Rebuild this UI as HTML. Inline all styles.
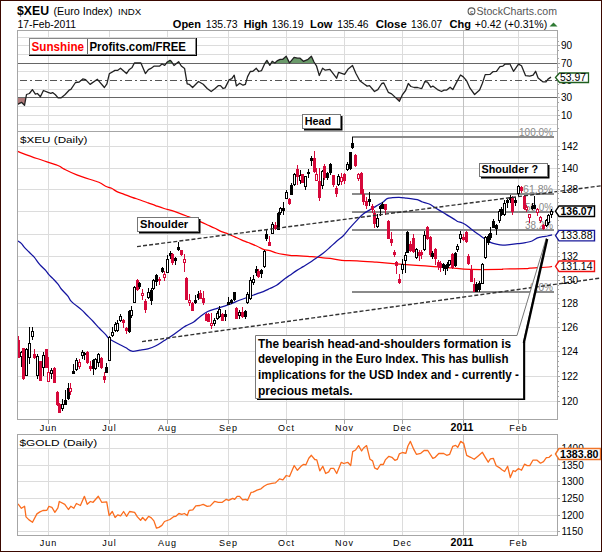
<!DOCTYPE html><html><head><meta charset="utf-8"><style>html,body{margin:0;padding:0;background:#fff;overflow:hidden}svg{display:block}</style></head><body><svg width="602" height="552" viewBox="0 0 602 552" font-family="'Liberation Sans', sans-serif" shape-rendering="auto">
<rect x="0" y="0" width="602" height="552" fill="#fff"/>
<text x="17" y="15" font-size="13.5" font-weight="bold" fill="#000" text-anchor="start" textLength="32.0" lengthAdjust="spacingAndGlyphs" >$XEU</text>
<text x="53.5" y="15" font-size="11" font-weight="normal" fill="#000" text-anchor="start" textLength="59.0" lengthAdjust="spacingAndGlyphs" >(Euro Index)</text>
<text x="118" y="14.8" font-size="9.8" font-weight="normal" fill="#000" text-anchor="start" textLength="23.2" lengthAdjust="spacingAndGlyphs" >INDX</text>
<text x="17.5" y="28" font-size="10" font-weight="normal" fill="#000" text-anchor="start" textLength="58.5" lengthAdjust="spacingAndGlyphs" >17-Feb-2011</text>
<circle cx="471.5" cy="11.3" r="3.4" fill="none" stroke="#555" stroke-width="1.1"/>
<text x="471.5" y="13.6" font-size="5.5" font-weight="bold" fill="#555" text-anchor="middle">c</text>
<text x="476.5" y="15" font-size="11" font-weight="normal" fill="#555" text-anchor="start" textLength="80.5" lengthAdjust="spacingAndGlyphs" >StockCharts.com</text>
<text x="172.8" y="27.5" font-size="11" font-weight="bold" fill="#000" text-anchor="start" textLength="28.2" lengthAdjust="spacingAndGlyphs" >Open</text>
<text x="205.7" y="27.5" font-size="11" font-weight="normal" fill="#000" text-anchor="start" textLength="32.0" lengthAdjust="spacingAndGlyphs" >135.73</text>
<text x="243.8" y="27.5" font-size="11" font-weight="bold" fill="#000" text-anchor="start" textLength="23.9" lengthAdjust="spacingAndGlyphs" >High</text>
<text x="271.7" y="27.5" font-size="11" font-weight="normal" fill="#000" text-anchor="start" textLength="31.9" lengthAdjust="spacingAndGlyphs" >136.19</text>
<text x="310.1" y="27.5" font-size="11" font-weight="bold" fill="#000" text-anchor="start" textLength="22.3" lengthAdjust="spacingAndGlyphs" >Low</text>
<text x="337.2" y="27.5" font-size="11" font-weight="normal" fill="#000" text-anchor="start" textLength="31.4" lengthAdjust="spacingAndGlyphs" >135.46</text>
<text x="375.7" y="27.5" font-size="11" font-weight="bold" fill="#000" text-anchor="start" textLength="31.1" lengthAdjust="spacingAndGlyphs" >Close</text>
<text x="411.1" y="27.5" font-size="11" font-weight="normal" fill="#000" text-anchor="start" textLength="31.1" lengthAdjust="spacingAndGlyphs" >136.07</text>
<text x="449.5" y="27.5" font-size="11" font-weight="bold" fill="#000" text-anchor="start" textLength="21.5" lengthAdjust="spacingAndGlyphs" >Chg</text>
<text x="474.8" y="27.5" font-size="11" font-weight="normal" fill="#000" text-anchor="start" textLength="72.4" lengthAdjust="spacingAndGlyphs" >+0.42 (+0.31%)</text>
<polygon points="549.5,26.5 557.5,26.5 553.5,22.5" fill="#2f7a34"/>
<line x1="17" y1="37.5" x2="557" y2="37.5" stroke="#dcdcdc" stroke-width="1" />
<line x1="17" y1="45.5" x2="557" y2="45.5" stroke="#dcdcdc" stroke-width="1" />
<line x1="17" y1="54.5" x2="557" y2="54.5" stroke="#dcdcdc" stroke-width="1" />
<line x1="17" y1="71.5" x2="557" y2="71.5" stroke="#dcdcdc" stroke-width="1" />
<line x1="17" y1="89.5" x2="557" y2="89.5" stroke="#dcdcdc" stroke-width="1" />
<line x1="17" y1="106.5" x2="557" y2="106.5" stroke="#dcdcdc" stroke-width="1" />
<line x1="17" y1="115.5" x2="557" y2="115.5" stroke="#dcdcdc" stroke-width="1" />
<line x1="17" y1="124.5" x2="557" y2="124.5" stroke="#dcdcdc" stroke-width="1" />
<line x1="48.5" y1="30" x2="48.5" y2="131" stroke="#dcdcdc" stroke-width="1" />
<line x1="109.5" y1="30" x2="109.5" y2="131" stroke="#dcdcdc" stroke-width="1" />
<line x1="167.5" y1="30" x2="167.5" y2="131" stroke="#dcdcdc" stroke-width="1" />
<line x1="228.5" y1="30" x2="228.5" y2="131" stroke="#dcdcdc" stroke-width="1" />
<line x1="286.5" y1="30" x2="286.5" y2="131" stroke="#dcdcdc" stroke-width="1" />
<line x1="344.5" y1="30" x2="344.5" y2="131" stroke="#dcdcdc" stroke-width="1" />
<line x1="402.5" y1="30" x2="402.5" y2="131" stroke="#dcdcdc" stroke-width="1" />
<line x1="463.5" y1="30" x2="463.5" y2="131" stroke="#c2c2c2" stroke-width="1" />
<line x1="518.5" y1="30" x2="518.5" y2="131" stroke="#dcdcdc" stroke-width="1" />
<polygon points="17.5,97.5 17.5,104.4 21.5,102.3 24.5,105.3 25.9,97.5" fill="#b07a7a"/>
<polygon points="57.8,97.5 58.1,97.9 60.9,97.9 61.4,97.5" fill="#b07a7a"/>
<polygon points="395.4,97.5 399.4,101.2 401.1,97.5" fill="#b07a7a"/>
<polygon points="134.1,63.5 134.4,63.0 140.9,63.0 141.1,63.5" fill="#6b9a6b"/>
<polygon points="166.1,63.5 167.3,62.0 170.0,60.4 171.3,61.3 172.7,63.5" fill="#6b9a6b"/>
<polygon points="176.4,63.5 178.6,61.7 179.7,63.5" fill="#6b9a6b"/>
<polygon points="264.8,63.5 264.9,63.3 266.9,60.4 268.2,62.6 268.7,63.5" fill="#6b9a6b"/>
<polygon points="270.9,63.5 272.2,61.3 274.9,63.0 277.5,60.6 280.2,59.3 282.8,59.3 286.2,56.2 289.5,62.9 294.1,57.3 297.5,58.2 300.1,58.2 303.4,61.3 308.1,59.3 311.4,56.2 314.0,62.0 314.9,63.5" fill="#6b9a6b"/>
<line x1="17" y1="63.5" x2="557" y2="63.5" stroke="#666" stroke-width="1" />
<line x1="17" y1="97.5" x2="557" y2="97.5" stroke="#666" stroke-width="1" />
<line x1="17" y1="80.5" x2="557" y2="80.5" stroke="#555" stroke-width="1" stroke-dasharray="7 3 2 3" stroke-dashoffset="-3"/>
<polyline points="17.5,104.4 21.5,102.3 24.5,105.3 26.5,94.5 29.4,93.5 32.4,89.6 35.4,94.2 37.4,93.5 40.4,96.7 43.4,90.5 48.1,92.4 50.8,93.3 52.6,92.6 55.4,94.8 58.1,97.9 60.9,97.9 64.9,94.8 69.1,90.2 70.9,89.3 75.5,82.5 79.2,82.0 82.8,78.9 85.6,79.6 90.1,84.4 97.4,79.3 104.4,87.5 106.9,83.8 109.3,73.8 115.0,70.4 117.5,70.4 120.5,68.2 126.5,73.6 129.4,69.4 132.1,67.4 134.4,63.0 140.9,63.0 145.4,73.6 148.4,69.7 150.9,68.4 153.9,66.2 159.4,66.2 162.0,64.0 164.7,65.3 167.3,62.0 170.0,60.4 171.3,61.3 174.0,65.5 178.6,61.7 181.3,66.0 184.6,68.6 187.2,83.9 189.2,84.3 192.6,87.5 198.5,81.5 203.2,84.3 207.2,88.5 211.2,91.5 215.1,88.5 218.5,85.6 220.5,85.6 223.1,88.5 225.1,87.9 229.1,79.9 231.8,78.6 234.2,75.2 236.4,85.9 239.7,83.2 243.0,85.2 245.4,84.3 247.6,76.6 250.3,71.5 252.9,71.3 256.3,68.3 258.7,71.5 261.6,70.6 264.9,63.3 266.9,60.4 268.2,62.6 269.8,65.3 272.2,61.3 274.9,63.0 277.5,60.6 280.2,59.3 282.8,59.3 286.2,56.2 289.5,62.9 294.1,57.3 297.5,58.2 300.1,58.2 303.4,61.3 308.1,59.3 311.4,56.2 314.0,62.0 316.6,66.2 319.3,75.5 322.6,68.2 325.3,70.2 329.9,69.3 336.6,78.2 338.6,72.3 344.6,74.3 347.9,69.3 352.5,65.5 355.8,73.3 359.8,80.8 364.5,84.3 367.1,86.1 369.5,85.6 374.5,91.5 377.8,89.6 381.8,83.5 383.8,83.0 388.3,92.3 391.6,93.9 399.4,101.2 402.3,94.9 405.6,90.5 408.3,83.5 410.9,86.5 414.2,87.5 417.6,87.5 420.9,88.5 421.9,88.3 424.9,81.5 427.5,82.2 430.8,87.2 432.8,86.1 437.5,89.6 441.5,91.5 444.1,90.1 446.8,90.1 450.1,87.2 452.8,89.6 456.8,81.9 460.5,75.0 463.3,76.9 466.6,80.7 470.0,88.2 474.6,94.5 479.6,89.9 482.4,83.2 485.2,74.6 489.9,74.4 493.2,71.6 496.5,71.3 499.9,66.6 502.9,66.1 505.2,64.1 509.8,63.8 513.5,71.3 518.5,64.1 521.5,65.8 525.6,75.7 529.8,76.2 533.1,75.2 535.6,71.3 538.1,77.9 543.1,81.9 546.0,81.9 548.0,79.1 551.0,77.1" fill="none" stroke="#222" stroke-width="1.3" stroke-linejoin="round"/>
<rect x="29" y="38" width="168" height="18" fill="#000"/>
<rect x="29.5" y="38.5" width="166" height="16" fill="#fff" stroke="#888" stroke-width="1"/>
<line x1="87.5" y1="39" x2="87.5" y2="54" stroke="#666" stroke-width="1" />
<text x="31.5" y="51" font-size="12" font-weight="bold" fill="#ff0000" text-anchor="start" textLength="52.5" lengthAdjust="spacingAndGlyphs" >Sunshine</text>
<text x="89.5" y="51" font-size="12" font-weight="bold" fill="#000" text-anchor="start" textLength="96.5" lengthAdjust="spacingAndGlyphs" >Profits.com/FREE</text>
<rect x="17.5" y="30.5" width="540" height="101" fill="none" stroke="#a6a6a6"/>
<line x1="557" y1="45.5" x2="560" y2="45.5" stroke="#a6a6a6" stroke-width="1" />
<line x1="557" y1="63.5" x2="560" y2="63.5" stroke="#a6a6a6" stroke-width="1" />
<line x1="557" y1="80.5" x2="560" y2="80.5" stroke="#a6a6a6" stroke-width="1" />
<line x1="557" y1="97.5" x2="560" y2="97.5" stroke="#a6a6a6" stroke-width="1" />
<line x1="557" y1="115.5" x2="560" y2="115.5" stroke="#a6a6a6" stroke-width="1" />
<line x1="557" y1="41.5" x2="559" y2="41.5" stroke="#a6a6a6" stroke-width="1" />
<line x1="557" y1="50.5" x2="559" y2="50.5" stroke="#a6a6a6" stroke-width="1" />
<line x1="557" y1="58.5" x2="559" y2="58.5" stroke="#a6a6a6" stroke-width="1" />
<line x1="557" y1="67.5" x2="559" y2="67.5" stroke="#a6a6a6" stroke-width="1" />
<line x1="557" y1="76.5" x2="559" y2="76.5" stroke="#a6a6a6" stroke-width="1" />
<line x1="557" y1="84.5" x2="559" y2="84.5" stroke="#a6a6a6" stroke-width="1" />
<line x1="557" y1="93.5" x2="559" y2="93.5" stroke="#a6a6a6" stroke-width="1" />
<line x1="557" y1="102.5" x2="559" y2="102.5" stroke="#a6a6a6" stroke-width="1" />
<line x1="557" y1="110.5" x2="559" y2="110.5" stroke="#a6a6a6" stroke-width="1" />
<line x1="557" y1="119.5" x2="559" y2="119.5" stroke="#a6a6a6" stroke-width="1" />
<line x1="557" y1="128.5" x2="559" y2="128.5" stroke="#a6a6a6" stroke-width="1" />
<text x="561" y="49" font-size="10" font-weight="normal" fill="#000" text-anchor="start" >90</text>
<text x="561" y="67" font-size="10" font-weight="normal" fill="#000" text-anchor="start" >70</text>
<text x="561" y="84" font-size="10" font-weight="normal" fill="#000" text-anchor="start" >50</text>
<text x="561" y="101" font-size="10" font-weight="normal" fill="#000" text-anchor="start" >30</text>
<text x="561" y="119" font-size="10" font-weight="normal" fill="#000" text-anchor="start" >10</text>
<polygon points="555.5,77.5 559.5,73 588.5,73 588.5,82.5 559.5,82.5" fill="#fff" stroke="#1f5f1f" stroke-width="1.3"/>
<text x="560" y="81.2" font-size="10" font-weight="normal" fill="#000" text-anchor="start" textLength="26.0" lengthAdjust="spacingAndGlyphs" >53.97</text>
<line x1="17" y1="146.5" x2="557" y2="146.5" stroke="#dcdcdc" stroke-width="1" />
<line x1="17" y1="168.5" x2="557" y2="168.5" stroke="#dcdcdc" stroke-width="1" />
<line x1="17" y1="189.5" x2="557" y2="189.5" stroke="#dcdcdc" stroke-width="1" />
<line x1="17" y1="211.5" x2="557" y2="211.5" stroke="#dcdcdc" stroke-width="1" />
<line x1="17" y1="234.5" x2="557" y2="234.5" stroke="#dcdcdc" stroke-width="1" />
<line x1="17" y1="256.5" x2="557" y2="256.5" stroke="#dcdcdc" stroke-width="1" />
<line x1="17" y1="280.5" x2="557" y2="280.5" stroke="#dcdcdc" stroke-width="1" />
<line x1="17" y1="303.5" x2="557" y2="303.5" stroke="#dcdcdc" stroke-width="1" />
<line x1="17" y1="327.5" x2="557" y2="327.5" stroke="#dcdcdc" stroke-width="1" />
<line x1="17" y1="351.5" x2="557" y2="351.5" stroke="#dcdcdc" stroke-width="1" />
<line x1="17" y1="376.5" x2="557" y2="376.5" stroke="#dcdcdc" stroke-width="1" />
<line x1="17" y1="401.5" x2="557" y2="401.5" stroke="#dcdcdc" stroke-width="1" />
<line x1="48.5" y1="131" x2="48.5" y2="419" stroke="#dcdcdc" stroke-width="1" />
<line x1="109.5" y1="131" x2="109.5" y2="419" stroke="#dcdcdc" stroke-width="1" />
<line x1="167.5" y1="131" x2="167.5" y2="419" stroke="#dcdcdc" stroke-width="1" />
<line x1="228.5" y1="131" x2="228.5" y2="419" stroke="#dcdcdc" stroke-width="1" />
<line x1="286.5" y1="131" x2="286.5" y2="419" stroke="#dcdcdc" stroke-width="1" />
<line x1="344.5" y1="131" x2="344.5" y2="419" stroke="#dcdcdc" stroke-width="1" />
<line x1="402.5" y1="131" x2="402.5" y2="419" stroke="#dcdcdc" stroke-width="1" />
<line x1="463.5" y1="131" x2="463.5" y2="419" stroke="#c2c2c2" stroke-width="1" />
<line x1="518.5" y1="131" x2="518.5" y2="419" stroke="#dcdcdc" stroke-width="1" />
<rect x="18" y="132" width="71" height="14" fill="#fff"/>
<text x="20" y="143" font-size="9.8" font-weight="normal" fill="#000" text-anchor="start" textLength="67.5" lengthAdjust="spacingAndGlyphs" >$XEU (Daily)</text>
<rect x="352" y="136" width="202" height="2" fill="#8a8a8a"/>
<rect x="352" y="193" width="202" height="2" fill="#8a8a8a"/>
<rect x="352" y="211" width="202" height="2" fill="#8a8a8a"/>
<rect x="352" y="229" width="202" height="2" fill="#8a8a8a"/>
<rect x="352" y="291" width="202" height="2" fill="#8a8a8a"/>
<text x="519" y="135.5" font-size="11" font-weight="normal" fill="#888" text-anchor="start" textLength="34.0" lengthAdjust="spacingAndGlyphs" >100.0%</text>
<text x="523" y="193" font-size="11" font-weight="normal" fill="#888" text-anchor="start" textLength="30.0" lengthAdjust="spacingAndGlyphs" >61.8%</text>
<text x="525" y="211" font-size="11" font-weight="normal" fill="#888" text-anchor="start" textLength="28.0" lengthAdjust="spacingAndGlyphs" >50.0%</text>
<text x="525" y="229" font-size="11" font-weight="normal" fill="#888" text-anchor="start" textLength="28.0" lengthAdjust="spacingAndGlyphs" >38.2%</text>
<text x="530" y="291" font-size="11" font-weight="normal" fill="#888" text-anchor="start" textLength="23.0" lengthAdjust="spacingAndGlyphs" >0.0%</text>
<path d="M17.00,151.20 C20.32,152.42 30.08,156.12 36.90,158.50 C43.72,160.88 53.42,163.77 57.90,165.50 C62.38,167.23 60.65,167.33 63.80,168.90 C66.95,170.47 71.60,172.88 76.80,174.90 C82.00,176.92 91.08,179.65 95.00,181.00 C98.92,182.35 98.53,182.12 100.30,183.00 C102.07,183.88 103.72,185.42 105.60,186.30 C107.48,187.18 109.72,187.42 111.60,188.30 C113.48,189.18 114.80,190.60 116.90,191.60 C119.00,192.60 121.65,193.35 124.20,194.30 C126.75,195.25 129.53,196.35 132.20,197.30 C134.87,198.25 137.53,199.07 140.20,200.00 C142.87,200.93 145.55,201.93 148.20,202.90 C150.85,203.87 153.45,204.87 156.10,205.80 C158.75,206.73 160.95,207.53 164.10,208.50 C167.25,209.47 170.97,210.23 175.00,211.60 C179.03,212.97 184.10,215.03 188.30,216.70 C192.50,218.37 196.88,220.18 200.20,221.60 C203.52,223.02 205.75,224.08 208.20,225.20 C210.65,226.32 212.68,227.23 214.90,228.30 C217.12,229.37 219.28,230.65 221.50,231.60 C223.72,232.55 225.98,233.12 228.20,234.00 C230.42,234.88 232.60,235.93 234.80,236.90 C237.00,237.87 239.18,238.87 241.40,239.80 C243.62,240.73 245.57,241.47 248.10,242.50 C250.63,243.53 254.07,244.87 256.60,246.00 C259.13,247.13 261.08,248.53 263.30,249.30 C265.52,250.07 267.68,249.98 269.90,250.60 C272.12,251.22 274.38,252.37 276.60,253.00 C278.82,253.63 280.98,254.02 283.20,254.40 C285.42,254.78 287.68,255.08 289.90,255.30 C292.12,255.52 294.28,255.55 296.50,255.70 C298.72,255.85 300.98,256.05 303.20,256.20 C305.42,256.35 307.60,256.47 309.80,256.60 C312.00,256.73 314.18,256.78 316.40,257.00 C318.62,257.22 320.83,257.68 323.10,257.90 C325.37,258.12 326.90,257.88 330.00,258.30 C333.10,258.72 337.20,259.98 341.70,260.40 C346.20,260.82 351.20,260.50 357.00,260.80 C362.80,261.10 367.15,261.47 376.50,262.20 C385.85,262.93 402.52,264.40 413.10,265.20 C423.68,266.00 433.52,266.53 440.00,267.00 C446.48,267.47 447.00,267.60 452.00,268.00 C457.00,268.40 462.00,269.17 470.00,269.40 C478.00,269.63 494.33,269.47 500.00,269.40 C505.67,269.33 499.67,269.13 504.00,269.00 C508.33,268.87 521.67,268.73 526.00,268.60 C530.33,268.47 526.17,268.47 530.00,268.20 C533.83,267.93 545.33,267.30 549.00,267.00 C552.67,266.70 551.50,266.50 552.00,266.40" fill="none" stroke="#ff0000" stroke-width="1.25"/>
<path d="M17.50,240.80 C18.17,241.27 20.38,242.53 21.50,243.60 C22.62,244.67 22.98,245.83 24.20,247.20 C25.42,248.57 27.13,250.13 28.80,251.80 C30.47,253.47 32.40,255.10 34.20,257.20 C36.00,259.30 37.63,262.13 39.60,264.40 C41.57,266.67 44.48,269.13 46.00,270.80 C47.52,272.47 47.50,273.05 48.70,274.40 C49.90,275.75 51.62,277.23 53.20,278.90 C54.78,280.57 56.85,282.72 58.20,284.40 C59.55,286.08 59.72,287.08 61.30,289.00 C62.88,290.92 66.00,293.80 67.70,295.90 C69.40,298.00 69.18,299.27 71.50,301.60 C73.82,303.93 79.07,307.67 81.60,309.90 C84.13,312.13 84.80,313.10 86.70,315.00 C88.60,316.90 90.88,319.08 93.00,321.30 C95.12,323.52 97.28,326.08 99.40,328.30 C101.52,330.52 104.02,332.82 105.70,334.60 C107.38,336.38 107.12,337.30 109.50,339.00 C111.88,340.70 117.25,343.33 120.00,344.80 C122.75,346.27 124.00,346.73 126.00,347.80 C128.00,348.87 129.68,350.80 132.00,351.20 C134.32,351.60 137.25,350.60 139.90,350.20 C142.55,349.80 145.23,349.53 147.90,348.80 C150.57,348.07 153.23,347.13 155.90,345.80 C158.57,344.47 161.25,342.47 163.90,340.80 C166.55,339.13 169.15,337.62 171.80,335.80 C174.45,333.98 177.47,331.55 179.80,329.90 C182.13,328.25 183.48,327.23 185.80,325.90 C188.12,324.57 191.38,323.40 193.70,321.90 C196.02,320.40 197.37,318.63 199.70,316.90 C202.03,315.17 205.03,312.83 207.70,311.50 C210.37,310.17 213.05,309.77 215.70,308.90 C218.35,308.03 220.95,307.18 223.60,306.30 C226.25,305.42 228.87,304.65 231.60,303.60 C234.33,302.55 236.93,301.18 240.00,300.00 C243.07,298.82 247.23,297.53 250.00,296.50 C252.77,295.47 254.38,294.62 256.60,293.80 C258.82,292.98 261.08,292.48 263.30,291.60 C265.52,290.72 267.68,289.57 269.90,288.50 C272.12,287.43 274.38,286.63 276.60,285.20 C278.82,283.77 280.98,281.57 283.20,279.90 C285.42,278.23 287.68,276.75 289.90,275.20 C292.12,273.65 294.28,272.03 296.50,270.60 C298.72,269.17 300.98,267.93 303.20,266.60 C305.42,265.27 307.60,264.05 309.80,262.60 C312.00,261.15 314.18,259.45 316.40,257.90 C318.62,256.35 320.83,255.07 323.10,253.30 C325.37,251.53 327.75,249.32 330.00,247.30 C332.25,245.28 334.38,243.12 336.60,241.20 C338.82,239.28 341.08,238.02 343.30,235.80 C345.52,233.58 347.68,230.43 349.90,227.90 C352.12,225.37 354.38,222.93 356.60,220.60 C358.82,218.27 360.98,215.68 363.20,213.90 C365.42,212.12 367.68,211.23 369.90,209.90 C372.12,208.57 374.28,207.22 376.50,205.90 C378.72,204.58 381.43,203.22 383.20,202.00 C384.97,200.78 385.55,199.32 387.10,198.60 C388.65,197.88 390.50,197.92 392.50,197.70 C394.50,197.48 396.75,197.22 399.10,197.30 C401.45,197.38 404.68,197.98 406.60,198.20 C408.52,198.42 408.82,198.37 410.60,198.60 C412.38,198.83 415.30,199.03 417.30,199.60 C419.30,200.17 420.62,201.27 422.60,202.00 C424.58,202.73 427.20,203.12 429.20,204.00 C431.20,204.88 432.82,206.20 434.60,207.30 C436.38,208.40 437.92,209.38 439.90,210.60 C441.88,211.82 444.28,213.27 446.50,214.60 C448.72,215.93 451.43,217.50 453.20,218.60 C454.97,219.70 455.55,220.47 457.10,221.20 C458.65,221.93 460.95,222.33 462.50,223.00 C464.05,223.67 465.08,224.28 466.40,225.20 C467.72,226.12 468.97,227.37 470.40,228.50 C471.83,229.63 473.35,230.80 475.00,232.00 C476.65,233.20 478.53,234.48 480.30,235.70 C482.07,236.92 483.82,238.15 485.60,239.30 C487.38,240.45 489.22,241.78 491.00,242.60 C492.78,243.42 494.32,243.77 496.30,244.20 C498.28,244.63 500.68,245.13 502.90,245.20 C505.12,245.27 507.17,244.85 509.60,244.60 C512.03,244.35 514.85,244.03 517.50,243.70 C520.15,243.37 523.07,243.05 525.50,242.60 C527.93,242.15 530.10,241.78 532.10,241.00 C534.10,240.22 535.72,238.63 537.50,237.90 C539.28,237.17 541.15,236.92 542.80,236.60 C544.45,236.28 545.85,236.28 547.40,236.00 C548.95,235.72 551.32,235.08 552.10,234.90" fill="none" stroke="#1414a0" stroke-width="1.25"/>
<rect x="18" y="336" width="1" height="22" fill="#d6083a"/>
<rect x="17" y="340" width="3" height="18" fill="#d6083a"/>
<rect x="21" y="351" width="1" height="16" fill="#000"/>
<rect x="20.5" y="352.5" width="2" height="4" fill="#fff" stroke="#000" stroke-width="1"/>
<rect x="23" y="348" width="1" height="32" fill="#d6083a"/>
<rect x="22" y="348" width="3" height="31" fill="#d6083a"/>
<rect x="26" y="348" width="1" height="28" fill="#000"/>
<rect x="25.5" y="349.5" width="2" height="26" fill="#fff" stroke="#000" stroke-width="1"/>
<rect x="29" y="327" width="1" height="37" fill="#000"/>
<rect x="28.5" y="343.5" width="2" height="14" fill="#fff" stroke="#000" stroke-width="1"/>
<rect x="32" y="327" width="1" height="13" fill="#000"/>
<rect x="31.5" y="331.5" width="2" height="5" fill="#fff" stroke="#000" stroke-width="1"/>
<rect x="34" y="349" width="1" height="10" fill="#d6083a"/>
<rect x="33" y="354" width="3" height="4" fill="#d6083a"/>
<rect x="37" y="354" width="1" height="25" fill="#000"/>
<rect x="36.5" y="356.5" width="2" height="19" fill="#fff" stroke="#000" stroke-width="1"/>
<rect x="40" y="361" width="1" height="20" fill="#d6083a"/>
<rect x="39" y="361" width="3" height="20" fill="#d6083a"/>
<rect x="43" y="352" width="1" height="24" fill="#000"/>
<rect x="42.5" y="355.5" width="2" height="12" fill="#fff" stroke="#000" stroke-width="1"/>
<rect x="46" y="349" width="1" height="19" fill="#d6083a"/>
<rect x="45" y="349" width="3" height="19" fill="#d6083a"/>
<rect x="48" y="357" width="1" height="25" fill="#d6083a"/>
<rect x="47.5" y="372.5" width="2" height="9" fill="#fff" stroke="#d6083a" stroke-width="1"/>
<rect x="51" y="368" width="1" height="11" fill="#000"/>
<rect x="50.5" y="370.5" width="2" height="3" fill="#fff" stroke="#000" stroke-width="1"/>
<rect x="54" y="367" width="1" height="16" fill="#d6083a"/>
<rect x="53" y="368" width="3" height="15" fill="#d6083a"/>
<rect x="57" y="391" width="1" height="15" fill="#d6083a"/>
<rect x="56" y="392" width="3" height="13" fill="#d6083a"/>
<rect x="59" y="403" width="1" height="10" fill="#d6083a"/>
<rect x="58" y="404" width="3" height="9" fill="#d6083a"/>
<rect x="62" y="399" width="1" height="12" fill="#000"/>
<rect x="61.5" y="404.5" width="2" height="4" fill="#fff" stroke="#000" stroke-width="1"/>
<rect x="65" y="390" width="1" height="15" fill="#000"/>
<rect x="64" y="400" width="3" height="5" fill="#000"/>
<rect x="68" y="383" width="1" height="17" fill="#000"/>
<rect x="67" y="388" width="3" height="11" fill="#000"/>
<rect x="70" y="383" width="1" height="12" fill="#d6083a"/>
<rect x="69.5" y="388.5" width="2" height="3" fill="#fff" stroke="#d6083a" stroke-width="1"/>
<rect x="73" y="364" width="1" height="10" fill="#000"/>
<rect x="72" y="371" width="3" height="3" fill="#000"/>
<rect x="76" y="358" width="1" height="13" fill="#000"/>
<rect x="75.5" y="360.5" width="2" height="9" fill="#fff" stroke="#000" stroke-width="1"/>
<rect x="79" y="359" width="1" height="10" fill="#d6083a"/>
<rect x="78.5" y="362.5" width="2" height="4" fill="#fff" stroke="#d6083a" stroke-width="1"/>
<rect x="82" y="350" width="1" height="9" fill="#000"/>
<rect x="81.5" y="352.5" width="2" height="3" fill="#fff" stroke="#000" stroke-width="1"/>
<rect x="84" y="352" width="1" height="8" fill="#000"/>
<rect x="83" y="353" width="3" height="2" fill="#000"/>
<rect x="87" y="351" width="1" height="13" fill="#d6083a"/>
<rect x="86" y="352" width="3" height="11" fill="#d6083a"/>
<rect x="90" y="361" width="1" height="10" fill="#d6083a"/>
<rect x="89" y="366" width="3" height="3" fill="#d6083a"/>
<rect x="93" y="359" width="1" height="16" fill="#000"/>
<rect x="92" y="360" width="3" height="9" fill="#000"/>
<rect x="95" y="358" width="1" height="12" fill="#000"/>
<rect x="94.5" y="359.5" width="2" height="9" fill="#fff" stroke="#000" stroke-width="1"/>
<rect x="98" y="353" width="1" height="14" fill="#000"/>
<rect x="97.5" y="354.5" width="2" height="8" fill="#fff" stroke="#000" stroke-width="1"/>
<rect x="101" y="357" width="1" height="12" fill="#d6083a"/>
<rect x="100" y="358" width="3" height="10" fill="#d6083a"/>
<rect x="104" y="372" width="1" height="11" fill="#d6083a"/>
<rect x="103" y="376" width="3" height="4" fill="#d6083a"/>
<rect x="106" y="363" width="1" height="10" fill="#000"/>
<rect x="105" y="367" width="3" height="6" fill="#000"/>
<rect x="109" y="336" width="1" height="25" fill="#000"/>
<rect x="108.5" y="337.5" width="2" height="23" fill="#fff" stroke="#000" stroke-width="1"/>
<rect x="112" y="327" width="1" height="10" fill="#000"/>
<rect x="111.5" y="332.5" width="2" height="3" fill="#fff" stroke="#000" stroke-width="1"/>
<rect x="115" y="322" width="1" height="10" fill="#000"/>
<rect x="114.5" y="324.5" width="2" height="6" fill="#fff" stroke="#000" stroke-width="1"/>
<rect x="117" y="320" width="1" height="12" fill="#000"/>
<rect x="116.5" y="323.5" width="2" height="7" fill="#fff" stroke="#000" stroke-width="1"/>
<rect x="120" y="314" width="1" height="8" fill="#000"/>
<rect x="119.5" y="316.5" width="2" height="4" fill="#fff" stroke="#000" stroke-width="1"/>
<rect x="123" y="319" width="1" height="9" fill="#d6083a"/>
<rect x="122" y="320" width="3" height="3" fill="#d6083a"/>
<rect x="126" y="327" width="1" height="7" fill="#d6083a"/>
<rect x="125" y="328" width="3" height="3" fill="#d6083a"/>
<rect x="129" y="310" width="1" height="23" fill="#000"/>
<rect x="128" y="311" width="3" height="21" fill="#000"/>
<rect x="131" y="306" width="1" height="12" fill="#000"/>
<rect x="130.5" y="310.5" width="2" height="5" fill="#fff" stroke="#000" stroke-width="1"/>
<rect x="134" y="286" width="1" height="17" fill="#000"/>
<rect x="133.5" y="287.5" width="2" height="15" fill="#fff" stroke="#000" stroke-width="1"/>
<rect x="137" y="279" width="1" height="12" fill="#d6083a"/>
<rect x="136" y="280" width="3" height="10" fill="#d6083a"/>
<rect x="139" y="282" width="1" height="7" fill="#000"/>
<rect x="138" y="283" width="3" height="4" fill="#000"/>
<rect x="142" y="289" width="1" height="11" fill="#d6083a"/>
<rect x="141.5" y="293.5" width="2" height="2" fill="#fff" stroke="#d6083a" stroke-width="1"/>
<rect x="145" y="299" width="1" height="14" fill="#d6083a"/>
<rect x="144" y="301" width="3" height="9" fill="#d6083a"/>
<rect x="148" y="288" width="1" height="11" fill="#000"/>
<rect x="147.5" y="292.5" width="2" height="5" fill="#fff" stroke="#000" stroke-width="1"/>
<rect x="151" y="288" width="1" height="17" fill="#000"/>
<rect x="150" y="290" width="3" height="11" fill="#000"/>
<rect x="153" y="279" width="1" height="11" fill="#000"/>
<rect x="152.5" y="280.5" width="2" height="8" fill="#fff" stroke="#000" stroke-width="1"/>
<rect x="156" y="274" width="1" height="12" fill="#000"/>
<rect x="155" y="275" width="3" height="7" fill="#000"/>
<rect x="159" y="277" width="1" height="8" fill="#d6083a"/>
<rect x="158" y="279" width="3" height="2" fill="#d6083a"/>
<rect x="162" y="267" width="1" height="6" fill="#000"/>
<rect x="161" y="268" width="3" height="4" fill="#000"/>
<rect x="164" y="271" width="1" height="10" fill="#d6083a"/>
<rect x="163.5" y="274.5" width="2" height="3" fill="#fff" stroke="#d6083a" stroke-width="1"/>
<rect x="167" y="255" width="1" height="18" fill="#000"/>
<rect x="166.5" y="259.5" width="2" height="13" fill="#fff" stroke="#000" stroke-width="1"/>
<rect x="170" y="251" width="1" height="8" fill="#000"/>
<rect x="169" y="253" width="3" height="3" fill="#000"/>
<rect x="172" y="253" width="1" height="12" fill="#d6083a"/>
<rect x="171" y="254" width="3" height="9" fill="#d6083a"/>
<rect x="175" y="257" width="1" height="8" fill="#000"/>
<rect x="174" y="258" width="3" height="3" fill="#000"/>
<rect x="178" y="242" width="1" height="9" fill="#000"/>
<rect x="177" y="247" width="3" height="3" fill="#000"/>
<rect x="181" y="250" width="1" height="6" fill="#d6083a"/>
<rect x="180" y="250" width="3" height="5" fill="#d6083a"/>
<rect x="184" y="254" width="1" height="18" fill="#d6083a"/>
<rect x="183.5" y="259.5" width="2" height="3" fill="#fff" stroke="#d6083a" stroke-width="1"/>
<rect x="186" y="277" width="1" height="23" fill="#d6083a"/>
<rect x="185" y="278" width="3" height="22" fill="#d6083a"/>
<rect x="189" y="294" width="1" height="12" fill="#d6083a"/>
<rect x="188.5" y="300.5" width="2" height="2" fill="#fff" stroke="#d6083a" stroke-width="1"/>
<rect x="192" y="302" width="1" height="9" fill="#d6083a"/>
<rect x="191" y="303" width="3" height="8" fill="#d6083a"/>
<rect x="195" y="295" width="1" height="9" fill="#000"/>
<rect x="194" y="300" width="3" height="3" fill="#000"/>
<rect x="198" y="291" width="1" height="9" fill="#000"/>
<rect x="197" y="294" width="3" height="4" fill="#000"/>
<rect x="200" y="290" width="1" height="9" fill="#d6083a"/>
<rect x="199" y="293" width="3" height="6" fill="#d6083a"/>
<rect x="203" y="291" width="1" height="14" fill="#d6083a"/>
<rect x="202" y="298" width="3" height="5" fill="#d6083a"/>
<rect x="206" y="313" width="1" height="8" fill="#d6083a"/>
<rect x="205" y="314" width="3" height="7" fill="#d6083a"/>
<rect x="208" y="313" width="1" height="9" fill="#d6083a"/>
<rect x="207" y="314" width="3" height="8" fill="#d6083a"/>
<rect x="211" y="313" width="1" height="16" fill="#d6083a"/>
<rect x="210.5" y="323.5" width="2" height="2" fill="#fff" stroke="#d6083a" stroke-width="1"/>
<rect x="214" y="318" width="1" height="8" fill="#000"/>
<rect x="213.5" y="320.5" width="2" height="3" fill="#fff" stroke="#000" stroke-width="1"/>
<rect x="217" y="311" width="1" height="9" fill="#000"/>
<rect x="216.5" y="313.5" width="2" height="5" fill="#fff" stroke="#000" stroke-width="1"/>
<rect x="219" y="306" width="1" height="12" fill="#000"/>
<rect x="218.5" y="309.5" width="2" height="7" fill="#fff" stroke="#000" stroke-width="1"/>
<rect x="222" y="313" width="1" height="8" fill="#d6083a"/>
<rect x="221" y="314" width="3" height="7" fill="#d6083a"/>
<rect x="225" y="310" width="1" height="11" fill="#000"/>
<rect x="224" y="314" width="3" height="3" fill="#000"/>
<rect x="228" y="297" width="1" height="8" fill="#000"/>
<rect x="227" y="302" width="3" height="3" fill="#000"/>
<rect x="231" y="299" width="1" height="5" fill="#000"/>
<rect x="230" y="300" width="3" height="3" fill="#000"/>
<rect x="234" y="292" width="1" height="9" fill="#000"/>
<rect x="233" y="292" width="3" height="8" fill="#000"/>
<rect x="236" y="307" width="1" height="12" fill="#d6083a"/>
<rect x="235" y="308" width="3" height="11" fill="#d6083a"/>
<rect x="239" y="310" width="1" height="9" fill="#000"/>
<rect x="238.5" y="312.5" width="2" height="3" fill="#fff" stroke="#000" stroke-width="1"/>
<rect x="242" y="307" width="1" height="11" fill="#d6083a"/>
<rect x="241" y="312" width="3" height="5" fill="#d6083a"/>
<rect x="245" y="310" width="1" height="9" fill="#000"/>
<rect x="244" y="311" width="3" height="6" fill="#000"/>
<rect x="247" y="292" width="1" height="12" fill="#000"/>
<rect x="246.5" y="294.5" width="2" height="8" fill="#fff" stroke="#000" stroke-width="1"/>
<rect x="250" y="277" width="1" height="23" fill="#000"/>
<rect x="249.5" y="280.5" width="2" height="18" fill="#fff" stroke="#000" stroke-width="1"/>
<rect x="253" y="275" width="1" height="10" fill="#000"/>
<rect x="252.5" y="279.5" width="2" height="3" fill="#fff" stroke="#000" stroke-width="1"/>
<rect x="256" y="266" width="1" height="10" fill="#000"/>
<rect x="255" y="269" width="3" height="4" fill="#000"/>
<rect x="258" y="269" width="1" height="9" fill="#d6083a"/>
<rect x="257" y="271" width="3" height="6" fill="#d6083a"/>
<rect x="261" y="269" width="1" height="9" fill="#000"/>
<rect x="260" y="270" width="3" height="4" fill="#000"/>
<rect x="264" y="250" width="1" height="18" fill="#000"/>
<rect x="263.5" y="251.5" width="2" height="15" fill="#fff" stroke="#000" stroke-width="1"/>
<rect x="266" y="230" width="1" height="11" fill="#000"/>
<rect x="265" y="234" width="3" height="5" fill="#000"/>
<rect x="269" y="236" width="1" height="10" fill="#d6083a"/>
<rect x="268" y="242" width="3" height="4" fill="#d6083a"/>
<rect x="272" y="222" width="1" height="12" fill="#000"/>
<rect x="271.5" y="224.5" width="2" height="9" fill="#fff" stroke="#000" stroke-width="1"/>
<rect x="275" y="222" width="1" height="8" fill="#d6083a"/>
<rect x="274" y="225" width="3" height="4" fill="#d6083a"/>
<rect x="278" y="212" width="1" height="18" fill="#000"/>
<rect x="277" y="213" width="3" height="17" fill="#000"/>
<rect x="280" y="207" width="1" height="8" fill="#000"/>
<rect x="279.5" y="208.5" width="2" height="4" fill="#fff" stroke="#000" stroke-width="1"/>
<rect x="283" y="202" width="1" height="13" fill="#000"/>
<rect x="282" y="208" width="3" height="3" fill="#000"/>
<rect x="286" y="190" width="1" height="9" fill="#000"/>
<rect x="285.5" y="192.5" width="2" height="6" fill="#fff" stroke="#000" stroke-width="1"/>
<rect x="289" y="198" width="1" height="7" fill="#d6083a"/>
<rect x="288" y="199" width="3" height="5" fill="#d6083a"/>
<rect x="291" y="183" width="1" height="12" fill="#000"/>
<rect x="290" y="185" width="3" height="10" fill="#000"/>
<rect x="294" y="173" width="1" height="13" fill="#000"/>
<rect x="293.5" y="174.5" width="2" height="10" fill="#fff" stroke="#000" stroke-width="1"/>
<rect x="297" y="165" width="1" height="20" fill="#d6083a"/>
<rect x="296" y="169" width="3" height="8" fill="#d6083a"/>
<rect x="300" y="170" width="1" height="14" fill="#000"/>
<rect x="299.5" y="175.5" width="2" height="5" fill="#fff" stroke="#000" stroke-width="1"/>
<rect x="302" y="174" width="1" height="9" fill="#d6083a"/>
<rect x="301" y="174" width="3" height="9" fill="#d6083a"/>
<rect x="305" y="176" width="1" height="14" fill="#000"/>
<rect x="304.5" y="176.5" width="2" height="10" fill="#fff" stroke="#000" stroke-width="1"/>
<rect x="308" y="169" width="1" height="9" fill="#000"/>
<rect x="307" y="172" width="3" height="2" fill="#000"/>
<rect x="311" y="156" width="1" height="10" fill="#000"/>
<rect x="310" y="158" width="3" height="3" fill="#000"/>
<rect x="314" y="151" width="1" height="22" fill="#d6083a"/>
<rect x="313" y="158" width="3" height="14" fill="#d6083a"/>
<rect x="316" y="168" width="1" height="13" fill="#d6083a"/>
<rect x="315.5" y="174.5" width="2" height="6" fill="#fff" stroke="#d6083a" stroke-width="1"/>
<rect x="319" y="168" width="1" height="33" fill="#d6083a"/>
<rect x="318" y="181" width="3" height="17" fill="#d6083a"/>
<rect x="322" y="170" width="1" height="19" fill="#000"/>
<rect x="321.5" y="171.5" width="2" height="14" fill="#fff" stroke="#000" stroke-width="1"/>
<rect x="324" y="164" width="1" height="16" fill="#d6083a"/>
<rect x="323" y="166" width="3" height="12" fill="#d6083a"/>
<rect x="327" y="172" width="1" height="8" fill="#000"/>
<rect x="326" y="173" width="3" height="5" fill="#000"/>
<rect x="330" y="163" width="1" height="12" fill="#000"/>
<rect x="329" y="164" width="3" height="9" fill="#000"/>
<rect x="333" y="175" width="1" height="12" fill="#d6083a"/>
<rect x="332" y="175" width="3" height="10" fill="#d6083a"/>
<rect x="336" y="186" width="1" height="11" fill="#d6083a"/>
<rect x="335" y="188" width="3" height="6" fill="#d6083a"/>
<rect x="338" y="174" width="1" height="12" fill="#000"/>
<rect x="337.5" y="176.5" width="2" height="8" fill="#fff" stroke="#000" stroke-width="1"/>
<rect x="341" y="173" width="1" height="12" fill="#d6083a"/>
<rect x="340.5" y="177.5" width="2" height="4" fill="#fff" stroke="#d6083a" stroke-width="1"/>
<rect x="344" y="173" width="1" height="11" fill="#d6083a"/>
<rect x="343" y="174" width="3" height="7" fill="#d6083a"/>
<rect x="347" y="162" width="1" height="9" fill="#000"/>
<rect x="346.5" y="164.5" width="2" height="5" fill="#fff" stroke="#000" stroke-width="1"/>
<rect x="350" y="152" width="1" height="18" fill="#000"/>
<rect x="349" y="152" width="3" height="17" fill="#000"/>
<rect x="352" y="137" width="1" height="12" fill="#000"/>
<rect x="351" y="143" width="3" height="5" fill="#000"/>
<rect x="355" y="154" width="1" height="13" fill="#d6083a"/>
<rect x="354" y="155" width="3" height="11" fill="#d6083a"/>
<rect x="358" y="173" width="1" height="8" fill="#d6083a"/>
<rect x="357.5" y="174.5" width="2" height="4" fill="#fff" stroke="#d6083a" stroke-width="1"/>
<rect x="361" y="172" width="1" height="22" fill="#d6083a"/>
<rect x="360" y="173" width="3" height="21" fill="#d6083a"/>
<rect x="363" y="189" width="1" height="16" fill="#d6083a"/>
<rect x="362" y="194" width="3" height="8" fill="#d6083a"/>
<rect x="366" y="197" width="1" height="12" fill="#d6083a"/>
<rect x="365" y="201" width="3" height="5" fill="#d6083a"/>
<rect x="369" y="192" width="1" height="14" fill="#000"/>
<rect x="368" y="199" width="3" height="3" fill="#000"/>
<rect x="372" y="204" width="1" height="9" fill="#d6083a"/>
<rect x="371" y="206" width="3" height="4" fill="#d6083a"/>
<rect x="374" y="210" width="1" height="18" fill="#d6083a"/>
<rect x="373" y="213" width="3" height="11" fill="#d6083a"/>
<rect x="377" y="214" width="1" height="14" fill="#000"/>
<rect x="376.5" y="218.5" width="2" height="8" fill="#fff" stroke="#000" stroke-width="1"/>
<rect x="380" y="205" width="1" height="11" fill="#000"/>
<rect x="379" y="206" width="3" height="3" fill="#000"/>
<rect x="382" y="202" width="1" height="7" fill="#000"/>
<rect x="381" y="204" width="3" height="5" fill="#000"/>
<rect x="385" y="204" width="1" height="11" fill="#d6083a"/>
<rect x="384" y="204" width="3" height="6" fill="#d6083a"/>
<rect x="388" y="220" width="1" height="19" fill="#d6083a"/>
<rect x="387" y="221" width="3" height="18" fill="#d6083a"/>
<rect x="391" y="232" width="1" height="14" fill="#d6083a"/>
<rect x="390" y="239" width="3" height="4" fill="#d6083a"/>
<rect x="394" y="250" width="1" height="7" fill="#d6083a"/>
<rect x="393" y="252" width="3" height="3" fill="#d6083a"/>
<rect x="396" y="261" width="1" height="13" fill="#d6083a"/>
<rect x="395" y="262" width="3" height="4" fill="#d6083a"/>
<rect x="399" y="274" width="1" height="10" fill="#d6083a"/>
<rect x="398" y="279" width="3" height="4" fill="#d6083a"/>
<rect x="402" y="259" width="1" height="15" fill="#000"/>
<rect x="401.5" y="264.5" width="2" height="5" fill="#fff" stroke="#000" stroke-width="1"/>
<rect x="405" y="252" width="1" height="21" fill="#000"/>
<rect x="404.5" y="255.5" width="2" height="5" fill="#fff" stroke="#000" stroke-width="1"/>
<rect x="407" y="231" width="1" height="22" fill="#000"/>
<rect x="406" y="232" width="3" height="21" fill="#000"/>
<rect x="410" y="241" width="1" height="11" fill="#d6083a"/>
<rect x="409" y="244" width="3" height="7" fill="#d6083a"/>
<rect x="413" y="234" width="1" height="19" fill="#d6083a"/>
<rect x="412" y="238" width="3" height="14" fill="#d6083a"/>
<rect x="416" y="248" width="1" height="11" fill="#000"/>
<rect x="415.5" y="249.5" width="2" height="8" fill="#fff" stroke="#000" stroke-width="1"/>
<rect x="419" y="250" width="1" height="11" fill="#d6083a"/>
<rect x="418" y="252" width="3" height="4" fill="#d6083a"/>
<rect x="421" y="250" width="1" height="9" fill="#d6083a"/>
<rect x="420" y="252" width="3" height="3" fill="#d6083a"/>
<rect x="424" y="231" width="1" height="20" fill="#000"/>
<rect x="423.5" y="235.5" width="2" height="14" fill="#fff" stroke="#000" stroke-width="1"/>
<rect x="427" y="226" width="1" height="14" fill="#d6083a"/>
<rect x="426" y="227" width="3" height="12" fill="#d6083a"/>
<rect x="430" y="236" width="1" height="21" fill="#d6083a"/>
<rect x="429" y="237" width="3" height="18" fill="#d6083a"/>
<rect x="432" y="251" width="1" height="8" fill="#000"/>
<rect x="431" y="253" width="3" height="4" fill="#000"/>
<rect x="435" y="248" width="1" height="17" fill="#d6083a"/>
<rect x="434" y="249" width="3" height="10" fill="#d6083a"/>
<rect x="438" y="260" width="1" height="10" fill="#d6083a"/>
<rect x="437" y="262" width="3" height="5" fill="#d6083a"/>
<rect x="440" y="261" width="1" height="11" fill="#d6083a"/>
<rect x="439" y="263" width="3" height="5" fill="#d6083a"/>
<rect x="443" y="263" width="1" height="8" fill="#000"/>
<rect x="442" y="264" width="3" height="4" fill="#000"/>
<rect x="445" y="265" width="1" height="10" fill="#000"/>
<rect x="444" y="266" width="3" height="3" fill="#000"/>
<rect x="447" y="262" width="1" height="9" fill="#000"/>
<rect x="446" y="264" width="3" height="4" fill="#000"/>
<rect x="449" y="260" width="1" height="6" fill="#000"/>
<rect x="448.5" y="260.5" width="2" height="4" fill="#fff" stroke="#000" stroke-width="1"/>
<rect x="452" y="253" width="1" height="16" fill="#d6083a"/>
<rect x="451" y="254" width="3" height="14" fill="#d6083a"/>
<rect x="455" y="252" width="1" height="15" fill="#000"/>
<rect x="454" y="253" width="3" height="13" fill="#000"/>
<rect x="457" y="244" width="1" height="8" fill="#000"/>
<rect x="456.5" y="246.5" width="2" height="3" fill="#fff" stroke="#000" stroke-width="1"/>
<rect x="460" y="231" width="1" height="12" fill="#000"/>
<rect x="459.5" y="234.5" width="2" height="4" fill="#fff" stroke="#000" stroke-width="1"/>
<rect x="463" y="234" width="1" height="7" fill="#d6083a"/>
<rect x="462" y="237" width="3" height="3" fill="#d6083a"/>
<rect x="466" y="231" width="1" height="12" fill="#d6083a"/>
<rect x="465" y="232" width="3" height="10" fill="#d6083a"/>
<rect x="468" y="254" width="1" height="11" fill="#d6083a"/>
<rect x="467" y="256" width="3" height="8" fill="#d6083a"/>
<rect x="471" y="265" width="1" height="17" fill="#d6083a"/>
<rect x="470" y="270" width="3" height="12" fill="#d6083a"/>
<rect x="474" y="278" width="1" height="14" fill="#d6083a"/>
<rect x="473" y="284" width="3" height="8" fill="#d6083a"/>
<rect x="476" y="282" width="1" height="10" fill="#000"/>
<rect x="475" y="284" width="3" height="8" fill="#000"/>
<rect x="479" y="281" width="1" height="11" fill="#000"/>
<rect x="478" y="283" width="3" height="7" fill="#000"/>
<rect x="482" y="263" width="1" height="21" fill="#000"/>
<rect x="481.5" y="264.5" width="2" height="19" fill="#fff" stroke="#000" stroke-width="1"/>
<rect x="485" y="236" width="1" height="23" fill="#000"/>
<rect x="484.5" y="237.5" width="2" height="20" fill="#fff" stroke="#000" stroke-width="1"/>
<rect x="488" y="234" width="1" height="11" fill="#000"/>
<rect x="487" y="236" width="3" height="7" fill="#000"/>
<rect x="490" y="227" width="1" height="13" fill="#000"/>
<rect x="489" y="233" width="3" height="5" fill="#000"/>
<rect x="493" y="219" width="1" height="9" fill="#000"/>
<rect x="492" y="221" width="3" height="7" fill="#000"/>
<rect x="496" y="224" width="1" height="11" fill="#000"/>
<rect x="495" y="225" width="3" height="4" fill="#000"/>
<rect x="499" y="209" width="1" height="14" fill="#000"/>
<rect x="498.5" y="211.5" width="2" height="9" fill="#fff" stroke="#000" stroke-width="1"/>
<rect x="501" y="207" width="1" height="9" fill="#000"/>
<rect x="500" y="209" width="3" height="6" fill="#000"/>
<rect x="504" y="200" width="1" height="16" fill="#000"/>
<rect x="503.5" y="203.5" width="2" height="11" fill="#fff" stroke="#000" stroke-width="1"/>
<rect x="507" y="199" width="1" height="9" fill="#000"/>
<rect x="506" y="200" width="3" height="3" fill="#000"/>
<rect x="510" y="195" width="1" height="8" fill="#000"/>
<rect x="509" y="197" width="3" height="3" fill="#000"/>
<rect x="512" y="196" width="1" height="19" fill="#d6083a"/>
<rect x="511" y="198" width="3" height="14" fill="#d6083a"/>
<rect x="515" y="197" width="1" height="9" fill="#000"/>
<rect x="514" y="200" width="3" height="3" fill="#000"/>
<rect x="518" y="185" width="1" height="12" fill="#000"/>
<rect x="517.5" y="186.5" width="2" height="7" fill="#fff" stroke="#000" stroke-width="1"/>
<rect x="521" y="186" width="1" height="7" fill="#d6083a"/>
<rect x="520" y="187" width="3" height="4" fill="#d6083a"/>
<rect x="524" y="195" width="1" height="15" fill="#d6083a"/>
<rect x="523" y="196" width="3" height="13" fill="#d6083a"/>
<rect x="526" y="205" width="1" height="7" fill="#d6083a"/>
<rect x="525.5" y="207.5" width="2" height="2" fill="#fff" stroke="#d6083a" stroke-width="1"/>
<rect x="529" y="214" width="1" height="9" fill="#d6083a"/>
<rect x="528.5" y="214.5" width="2" height="3" fill="#fff" stroke="#d6083a" stroke-width="1"/>
<rect x="532" y="203" width="1" height="7" fill="#000"/>
<rect x="531" y="206" width="3" height="3" fill="#000"/>
<rect x="534" y="196" width="1" height="13" fill="#000"/>
<rect x="533" y="205" width="3" height="4" fill="#000"/>
<rect x="537" y="208" width="1" height="8" fill="#d6083a"/>
<rect x="536.5" y="209.5" width="2" height="3" fill="#fff" stroke="#d6083a" stroke-width="1"/>
<rect x="540" y="216" width="1" height="7" fill="#d6083a"/>
<rect x="539.5" y="217.5" width="2" height="3" fill="#fff" stroke="#d6083a" stroke-width="1"/>
<rect x="543" y="224" width="1" height="6" fill="#d6083a"/>
<rect x="542" y="225" width="3" height="4" fill="#d6083a"/>
<rect x="546" y="219" width="1" height="8" fill="#000"/>
<rect x="545.5" y="220.5" width="2" height="5" fill="#fff" stroke="#000" stroke-width="1"/>
<rect x="548" y="214" width="1" height="11" fill="#000"/>
<rect x="547.5" y="215.5" width="2" height="7" fill="#fff" stroke="#000" stroke-width="1"/>
<rect x="551" y="209" width="1" height="9" fill="#000"/>
<rect x="550.5" y="211.5" width="2" height="3" fill="#fff" stroke="#000" stroke-width="1"/>
<line x1="137" y1="246.6" x2="601" y2="185.8" stroke="#333" stroke-width="1.4" stroke-dasharray="4 2.1"/>
<line x1="142" y1="341.6" x2="601" y2="278" stroke="#333" stroke-width="1.4" stroke-dasharray="4 2.1"/>
<rect x="304" y="116" width="38.5" height="14.5" fill="#000"/>
<rect x="302.5" y="114.5" width="38" height="14" fill="#fff" stroke="#777"/>
<text x="304.8" y="124.5" font-size="11" font-weight="bold" fill="#000" text-anchor="start" textLength="26.4" lengthAdjust="spacingAndGlyphs" >Head</text>
<rect x="139" y="219" width="61.5" height="14.5" fill="#000"/>
<rect x="137.5" y="217.5" width="61" height="14" fill="#fff" stroke="#777"/>
<text x="140" y="227.8" font-size="11" font-weight="bold" fill="#000" text-anchor="start" textLength="48.2" lengthAdjust="spacingAndGlyphs" >Shoulder</text>
<rect x="481" y="165" width="68.5" height="13.5" fill="#000"/>
<rect x="479.5" y="163.5" width="68" height="13" fill="#fff" stroke="#777"/>
<text x="481.5" y="173" font-size="11" font-weight="bold" fill="#000" text-anchor="start" textLength="56.5" lengthAdjust="spacingAndGlyphs" >Shoulder ?</text>
<polygon points="257,337 517.5,337 547,239 523.5,343 525,337 525,400 257,400" fill="#000"/>
<polygon points="255.5,335.5 517,335.5 546.3,238.3 523.5,342 523.5,398.5 255.5,398.5" fill="#fff" stroke="#777" stroke-width="1"/>
<line x1="523.8" y1="343" x2="547.2" y2="239" stroke="#000" stroke-width="2.3"/>
<line x1="524.2" y1="342" x2="524.2" y2="400" stroke="#000" stroke-width="2"/>
<text x="258" y="347.5" font-size="12" font-weight="bold" fill="#000" text-anchor="start" textLength="253.0" lengthAdjust="spacingAndGlyphs" >The bearish head-and-shoulders formation is</text>
<text x="258" y="363.3" font-size="12" font-weight="bold" fill="#000" text-anchor="start" textLength="250.5" lengthAdjust="spacingAndGlyphs" >developing in the Euro Index. This has bullish</text>
<text x="258" y="379.1" font-size="12" font-weight="bold" fill="#000" text-anchor="start" textLength="261.0" lengthAdjust="spacingAndGlyphs" >implications for the USD Index and - currently -</text>
<text x="258" y="394.9" font-size="12" font-weight="bold" fill="#000" text-anchor="start" textLength="94.7" lengthAdjust="spacingAndGlyphs" >precious metals.</text>
<rect x="17.5" y="131.5" width="540" height="288" fill="none" stroke="#a6a6a6"/>
<line x1="557" y1="146.5" x2="560" y2="146.5" stroke="#a6a6a6" stroke-width="1" />
<line x1="557" y1="168.5" x2="560" y2="168.5" stroke="#a6a6a6" stroke-width="1" />
<line x1="557" y1="189.5" x2="560" y2="189.5" stroke="#a6a6a6" stroke-width="1" />
<line x1="557" y1="211.5" x2="560" y2="211.5" stroke="#a6a6a6" stroke-width="1" />
<line x1="557" y1="234.5" x2="560" y2="234.5" stroke="#a6a6a6" stroke-width="1" />
<line x1="557" y1="256.5" x2="560" y2="256.5" stroke="#a6a6a6" stroke-width="1" />
<line x1="557" y1="280.5" x2="560" y2="280.5" stroke="#a6a6a6" stroke-width="1" />
<line x1="557" y1="303.5" x2="560" y2="303.5" stroke="#a6a6a6" stroke-width="1" />
<line x1="557" y1="327.5" x2="560" y2="327.5" stroke="#a6a6a6" stroke-width="1" />
<line x1="557" y1="351.5" x2="560" y2="351.5" stroke="#a6a6a6" stroke-width="1" />
<line x1="557" y1="376.5" x2="560" y2="376.5" stroke="#a6a6a6" stroke-width="1" />
<line x1="557" y1="401.5" x2="560" y2="401.5" stroke="#a6a6a6" stroke-width="1" />
<line x1="557" y1="150.5" x2="559" y2="150.5" stroke="#a6a6a6" stroke-width="1" />
<line x1="557" y1="155.5" x2="559" y2="155.5" stroke="#a6a6a6" stroke-width="1" />
<line x1="557" y1="159.5" x2="559" y2="159.5" stroke="#a6a6a6" stroke-width="1" />
<line x1="557" y1="164.5" x2="559" y2="164.5" stroke="#a6a6a6" stroke-width="1" />
<line x1="557" y1="172.5" x2="559" y2="172.5" stroke="#a6a6a6" stroke-width="1" />
<line x1="557" y1="176.5" x2="559" y2="176.5" stroke="#a6a6a6" stroke-width="1" />
<line x1="557" y1="181.5" x2="559" y2="181.5" stroke="#a6a6a6" stroke-width="1" />
<line x1="557" y1="185.5" x2="559" y2="185.5" stroke="#a6a6a6" stroke-width="1" />
<line x1="557" y1="193.5" x2="559" y2="193.5" stroke="#a6a6a6" stroke-width="1" />
<line x1="557" y1="198.5" x2="559" y2="198.5" stroke="#a6a6a6" stroke-width="1" />
<line x1="557" y1="202.5" x2="559" y2="202.5" stroke="#a6a6a6" stroke-width="1" />
<line x1="557" y1="207.5" x2="559" y2="207.5" stroke="#a6a6a6" stroke-width="1" />
<line x1="557" y1="216.5" x2="559" y2="216.5" stroke="#a6a6a6" stroke-width="1" />
<line x1="557" y1="220.5" x2="559" y2="220.5" stroke="#a6a6a6" stroke-width="1" />
<line x1="557" y1="225.5" x2="559" y2="225.5" stroke="#a6a6a6" stroke-width="1" />
<line x1="557" y1="229.5" x2="559" y2="229.5" stroke="#a6a6a6" stroke-width="1" />
<line x1="557" y1="238.5" x2="559" y2="238.5" stroke="#a6a6a6" stroke-width="1" />
<line x1="557" y1="243.5" x2="559" y2="243.5" stroke="#a6a6a6" stroke-width="1" />
<line x1="557" y1="247.5" x2="559" y2="247.5" stroke="#a6a6a6" stroke-width="1" />
<line x1="557" y1="252.5" x2="559" y2="252.5" stroke="#a6a6a6" stroke-width="1" />
<line x1="557" y1="261.5" x2="559" y2="261.5" stroke="#a6a6a6" stroke-width="1" />
<line x1="557" y1="266.5" x2="559" y2="266.5" stroke="#a6a6a6" stroke-width="1" />
<line x1="557" y1="270.5" x2="559" y2="270.5" stroke="#a6a6a6" stroke-width="1" />
<line x1="557" y1="275.5" x2="559" y2="275.5" stroke="#a6a6a6" stroke-width="1" />
<line x1="557" y1="285.5" x2="559" y2="285.5" stroke="#a6a6a6" stroke-width="1" />
<line x1="557" y1="289.5" x2="559" y2="289.5" stroke="#a6a6a6" stroke-width="1" />
<line x1="557" y1="294.5" x2="559" y2="294.5" stroke="#a6a6a6" stroke-width="1" />
<line x1="557" y1="298.5" x2="559" y2="298.5" stroke="#a6a6a6" stroke-width="1" />
<line x1="557" y1="308.5" x2="559" y2="308.5" stroke="#a6a6a6" stroke-width="1" />
<line x1="557" y1="313.5" x2="559" y2="313.5" stroke="#a6a6a6" stroke-width="1" />
<line x1="557" y1="317.5" x2="559" y2="317.5" stroke="#a6a6a6" stroke-width="1" />
<line x1="557" y1="322.5" x2="559" y2="322.5" stroke="#a6a6a6" stroke-width="1" />
<line x1="557" y1="332.5" x2="559" y2="332.5" stroke="#a6a6a6" stroke-width="1" />
<line x1="557" y1="337.5" x2="559" y2="337.5" stroke="#a6a6a6" stroke-width="1" />
<line x1="557" y1="341.5" x2="559" y2="341.5" stroke="#a6a6a6" stroke-width="1" />
<line x1="557" y1="346.5" x2="559" y2="346.5" stroke="#a6a6a6" stroke-width="1" />
<line x1="557" y1="356.5" x2="559" y2="356.5" stroke="#a6a6a6" stroke-width="1" />
<line x1="557" y1="361.5" x2="559" y2="361.5" stroke="#a6a6a6" stroke-width="1" />
<line x1="557" y1="366.5" x2="559" y2="366.5" stroke="#a6a6a6" stroke-width="1" />
<line x1="557" y1="371.5" x2="559" y2="371.5" stroke="#a6a6a6" stroke-width="1" />
<line x1="557" y1="381.5" x2="559" y2="381.5" stroke="#a6a6a6" stroke-width="1" />
<line x1="557" y1="386.5" x2="559" y2="386.5" stroke="#a6a6a6" stroke-width="1" />
<line x1="557" y1="391.5" x2="559" y2="391.5" stroke="#a6a6a6" stroke-width="1" />
<line x1="557" y1="396.5" x2="559" y2="396.5" stroke="#a6a6a6" stroke-width="1" />
<text x="561.5" y="150" font-size="10" font-weight="normal" fill="#000" text-anchor="start" >142</text>
<text x="561.5" y="172" font-size="10" font-weight="normal" fill="#000" text-anchor="start" >140</text>
<text x="561.5" y="193" font-size="10" font-weight="normal" fill="#000" text-anchor="start" >138</text>
<text x="561.5" y="260" font-size="10" font-weight="normal" fill="#000" text-anchor="start" >132</text>
<text x="561.5" y="284" font-size="10" font-weight="normal" fill="#000" text-anchor="start" >130</text>
<text x="561.5" y="307" font-size="10" font-weight="normal" fill="#000" text-anchor="start" >128</text>
<text x="561.5" y="331" font-size="10" font-weight="normal" fill="#000" text-anchor="start" >126</text>
<text x="561.5" y="355" font-size="10" font-weight="normal" fill="#000" text-anchor="start" >124</text>
<text x="561.5" y="380" font-size="10" font-weight="normal" fill="#000" text-anchor="start" >122</text>
<text x="561.5" y="405" font-size="10" font-weight="normal" fill="#000" text-anchor="start" >120</text>
<polygon points="555.5,211.2 559,205.95 594.5,205.95 594.5,216.45 559,216.45" fill="#fff" stroke="#000" stroke-width="1.4"/>
<text x="560.5" y="215.0" font-size="11" font-weight="bold" fill="#000" text-anchor="start" textLength="32.0" lengthAdjust="spacingAndGlyphs" >136.07</text>
<polygon points="555.5,235.6 559,230.35 594.5,230.35 594.5,240.85 559,240.85" fill="#fff" stroke="#1a1a9a" stroke-width="1.4"/>
<text x="560.5" y="239.4" font-size="10.5" font-weight="normal" fill="#000" text-anchor="start" textLength="32.0" lengthAdjust="spacingAndGlyphs" >133.88</text>
<polygon points="555.5,266.3 559,261.05 594.5,261.05 594.5,271.55 559,271.55" fill="#fff" stroke="#ee1111" stroke-width="1.4"/>
<text x="560.5" y="270.1" font-size="10.5" font-weight="normal" fill="#000" text-anchor="start" textLength="32.0" lengthAdjust="spacingAndGlyphs" >131.14</text>
<text x="48.5" y="431" font-size="9" font-weight="normal" fill="#000" text-anchor="middle" letter-spacing="1">Jun</text>
<text x="109.5" y="431" font-size="9" font-weight="normal" fill="#000" text-anchor="middle" letter-spacing="1">Jul</text>
<text x="167.5" y="431" font-size="9" font-weight="normal" fill="#000" text-anchor="middle" letter-spacing="1">Aug</text>
<text x="228.5" y="431" font-size="9" font-weight="normal" fill="#000" text-anchor="middle" letter-spacing="1">Sep</text>
<text x="286.5" y="431" font-size="9" font-weight="normal" fill="#000" text-anchor="middle" letter-spacing="1">Oct</text>
<text x="344.5" y="431" font-size="9" font-weight="normal" fill="#000" text-anchor="middle" letter-spacing="1">Nov</text>
<text x="402.5" y="431" font-size="9" font-weight="normal" fill="#000" text-anchor="middle" letter-spacing="1">Dec</text>
<text x="450.5" y="431" font-size="10.5" font-weight="bold" fill="#000" text-anchor="start" textLength="23.0" lengthAdjust="spacingAndGlyphs" >2011</text>
<text x="518.5" y="431" font-size="9" font-weight="normal" fill="#000" text-anchor="middle" letter-spacing="1">Feb</text>
<line x1="48.5" y1="419" x2="48.5" y2="424" stroke="#a6a6a6" stroke-width="1" />
<line x1="109.5" y1="419" x2="109.5" y2="424" stroke="#a6a6a6" stroke-width="1" />
<line x1="167.5" y1="419" x2="167.5" y2="424" stroke="#a6a6a6" stroke-width="1" />
<line x1="228.5" y1="419" x2="228.5" y2="424" stroke="#a6a6a6" stroke-width="1" />
<line x1="286.5" y1="419" x2="286.5" y2="424" stroke="#a6a6a6" stroke-width="1" />
<line x1="344.5" y1="419" x2="344.5" y2="424" stroke="#a6a6a6" stroke-width="1" />
<line x1="402.5" y1="419" x2="402.5" y2="424" stroke="#a6a6a6" stroke-width="1" />
<line x1="463.5" y1="419" x2="463.5" y2="424" stroke="#a6a6a6" stroke-width="1" />
<line x1="518.5" y1="419" x2="518.5" y2="424" stroke="#a6a6a6" stroke-width="1" />
<line x1="17" y1="448.5" x2="557" y2="448.5" stroke="#dcdcdc" stroke-width="1" />
<line x1="17" y1="465.5" x2="557" y2="465.5" stroke="#dcdcdc" stroke-width="1" />
<line x1="17" y1="481.5" x2="557" y2="481.5" stroke="#dcdcdc" stroke-width="1" />
<line x1="17" y1="498.5" x2="557" y2="498.5" stroke="#dcdcdc" stroke-width="1" />
<line x1="17" y1="515.5" x2="557" y2="515.5" stroke="#dcdcdc" stroke-width="1" />
<line x1="17" y1="531.5" x2="557" y2="531.5" stroke="#dcdcdc" stroke-width="1" />
<line x1="48.5" y1="434" x2="48.5" y2="535" stroke="#dcdcdc" stroke-width="1" />
<line x1="109.5" y1="434" x2="109.5" y2="535" stroke="#dcdcdc" stroke-width="1" />
<line x1="167.5" y1="434" x2="167.5" y2="535" stroke="#dcdcdc" stroke-width="1" />
<line x1="228.5" y1="434" x2="228.5" y2="535" stroke="#dcdcdc" stroke-width="1" />
<line x1="286.5" y1="434" x2="286.5" y2="535" stroke="#dcdcdc" stroke-width="1" />
<line x1="344.5" y1="434" x2="344.5" y2="535" stroke="#dcdcdc" stroke-width="1" />
<line x1="402.5" y1="434" x2="402.5" y2="535" stroke="#dcdcdc" stroke-width="1" />
<line x1="463.5" y1="434" x2="463.5" y2="535" stroke="#c2c2c2" stroke-width="1" />
<line x1="518.5" y1="434" x2="518.5" y2="535" stroke="#dcdcdc" stroke-width="1" />
<polyline points="18.0,503.9 21.4,508.3 24.6,506.3 26.0,516.9 29.0,519.9 32.5,522.3 36.9,513.9 39.9,511.9 42.9,510.5 46.9,510.3 48.9,506.3 51.9,507.3 54.9,512.3 57.9,507.9 59.3,501.5 64.8,504.3 68.4,509.5 70.8,506.3 73.8,508.3 76.4,503.5 80.4,505.5 84.4,496.3 87.2,504.3 90.4,501.5 93.1,502.3 98.3,496.3 101.7,502.3 106.7,501.9 109.1,515.5 112.3,511.5 115.1,517.5 117.7,514.9 120.6,515.9 123.6,511.5 126.6,516.3 129.6,511.5 134.6,512.3 137.4,516.9 140.6,520.3 142.6,517.5 145.4,520.5 148.6,516.3 151.3,517.9 153.9,520.9 156.5,528.2 158.9,527.4 161.9,525.4 164.5,521.5 169.9,519.5 173.9,516.5 175.9,516.3 178.9,513.5 181.8,514.3 184.4,513.5 187.2,515.5 189.2,510.3 192.8,509.9 195.8,505.9 199.8,505.5 203.2,504.3 207.2,506.3 210.3,505.9 214.7,501.3 218.3,502.3 222.3,502.3 226.3,499.3 228.7,500.3 232.7,498.3 234.7,499.3 237.1,496.3 239.6,496.3 242.6,499.9 245.6,499.3 247.6,500.3 251.0,492.4 253.0,492.2 257.0,490.2 261.0,488.8 264.0,486.2 267.5,484.3 271.9,483.3 275.5,482.9 279.5,478.9 282.9,479.9 286.3,475.5 289.5,476.5 294.2,465.5 297.4,470.3 301.4,465.9 303.8,464.3 305.8,464.9 308.8,458.3 311.4,455.3 314.8,459.5 316.8,459.9 319.8,470.9 322.8,466.3 325.7,473.5 328.7,471.9 330.7,468.3 333.7,468.3 336.7,473.5 341.3,462.3 343.7,463.5 347.7,462.3 350.7,465.5 352.7,451.6 355.6,450.0 358.6,445.6 361.6,451.0 363.6,448.0 366.6,445.6 370.0,459.3 372.6,460.9 374.6,467.9 377.4,469.3 380.5,464.5 383.3,464.5 385.3,459.9 388.9,456.3 391.9,457.3 394.9,460.3 397.3,459.3 399.3,453.9 402.5,452.5 405.9,453.3 407.9,446.0 410.4,441.4 413.8,449.4 416.4,454.3 420.8,453.3 424.4,450.3 427.8,450.5 432.8,458.3 435.2,457.3 438.8,453.5 443.7,453.5 446.7,455.3 449.7,454.3 452.7,446.4 455.7,445.4 457.7,447.4 460.7,441.4 463.7,443.4 466.7,455.3 470.6,457.3 474.2,459.3 478.2,455.9 482.4,452.3 485.3,457.3 488.2,462.2 490.4,458.9 493.3,458.3 496.2,465.8 499.3,467.6 501.9,469.8 504.6,471.5 507.6,466.2 510.3,477.5 513.2,470.6 515.2,471.5 518.5,468.5 521.5,470.2 524.5,464.2 527.2,465.6 529.8,465.6 532.9,460.2 537.1,460.2 540.5,463.2 543.5,461.6 546.4,457.6 549.1,457.3 551.8,454.7" fill="none" stroke="#fb6d1e" stroke-width="1.3" stroke-linejoin="round"/>
<rect x="18" y="435" width="81" height="13" fill="#fff"/>
<text x="19.5" y="445.5" font-size="9.8" font-weight="normal" fill="#000" text-anchor="start" textLength="77.7" lengthAdjust="spacingAndGlyphs" >$GOLD (Daily)</text>
<rect x="17.5" y="434.5" width="540" height="101" fill="none" stroke="#a6a6a6"/>
<line x1="557" y1="448.5" x2="560" y2="448.5" stroke="#a6a6a6" stroke-width="1" />
<text x="561.5" y="452" font-size="10" font-weight="normal" fill="#000" text-anchor="start" >1400</text>
<line x1="557" y1="465.5" x2="560" y2="465.5" stroke="#a6a6a6" stroke-width="1" />
<text x="561.5" y="469" font-size="10" font-weight="normal" fill="#000" text-anchor="start" >1350</text>
<line x1="557" y1="481.5" x2="560" y2="481.5" stroke="#a6a6a6" stroke-width="1" />
<text x="561.5" y="485" font-size="10" font-weight="normal" fill="#000" text-anchor="start" >1300</text>
<line x1="557" y1="498.5" x2="560" y2="498.5" stroke="#a6a6a6" stroke-width="1" />
<text x="561.5" y="502" font-size="10" font-weight="normal" fill="#000" text-anchor="start" >1250</text>
<line x1="557" y1="515.5" x2="560" y2="515.5" stroke="#a6a6a6" stroke-width="1" />
<text x="561.5" y="519" font-size="10" font-weight="normal" fill="#000" text-anchor="start" >1200</text>
<line x1="557" y1="531.5" x2="560" y2="531.5" stroke="#a6a6a6" stroke-width="1" />
<text x="561.5" y="535" font-size="10" font-weight="normal" fill="#000" text-anchor="start" >1150</text>
<polygon points="555.5,454 559,448.5 600.5,448.5 600.5,459.5 559,459.5" fill="#fff" stroke="#f07428" stroke-width="1.4"/>
<text x="560" y="458" font-size="11" font-weight="bold" fill="#000" text-anchor="start" textLength="38.5" lengthAdjust="spacingAndGlyphs" >1383.80</text>
<text x="48.5" y="546" font-size="9" font-weight="normal" fill="#000" text-anchor="middle" letter-spacing="1">Jun</text>
<text x="109.5" y="546" font-size="9" font-weight="normal" fill="#000" text-anchor="middle" letter-spacing="1">Jul</text>
<text x="167.5" y="546" font-size="9" font-weight="normal" fill="#000" text-anchor="middle" letter-spacing="1">Aug</text>
<text x="228.5" y="546" font-size="9" font-weight="normal" fill="#000" text-anchor="middle" letter-spacing="1">Sep</text>
<text x="286.5" y="546" font-size="9" font-weight="normal" fill="#000" text-anchor="middle" letter-spacing="1">Oct</text>
<text x="344.5" y="546" font-size="9" font-weight="normal" fill="#000" text-anchor="middle" letter-spacing="1">Nov</text>
<text x="402.5" y="546" font-size="9" font-weight="normal" fill="#000" text-anchor="middle" letter-spacing="1">Dec</text>
<text x="450.5" y="546" font-size="10.5" font-weight="bold" fill="#000" text-anchor="start" textLength="23.0" lengthAdjust="spacingAndGlyphs" >2011</text>
<text x="518.5" y="546" font-size="9" font-weight="normal" fill="#000" text-anchor="middle" letter-spacing="1">Feb</text>
<rect x="0.5" y="0.5" width="601" height="551" fill="none" stroke="#3a0800" stroke-width="1"/>
</svg></body></html>
